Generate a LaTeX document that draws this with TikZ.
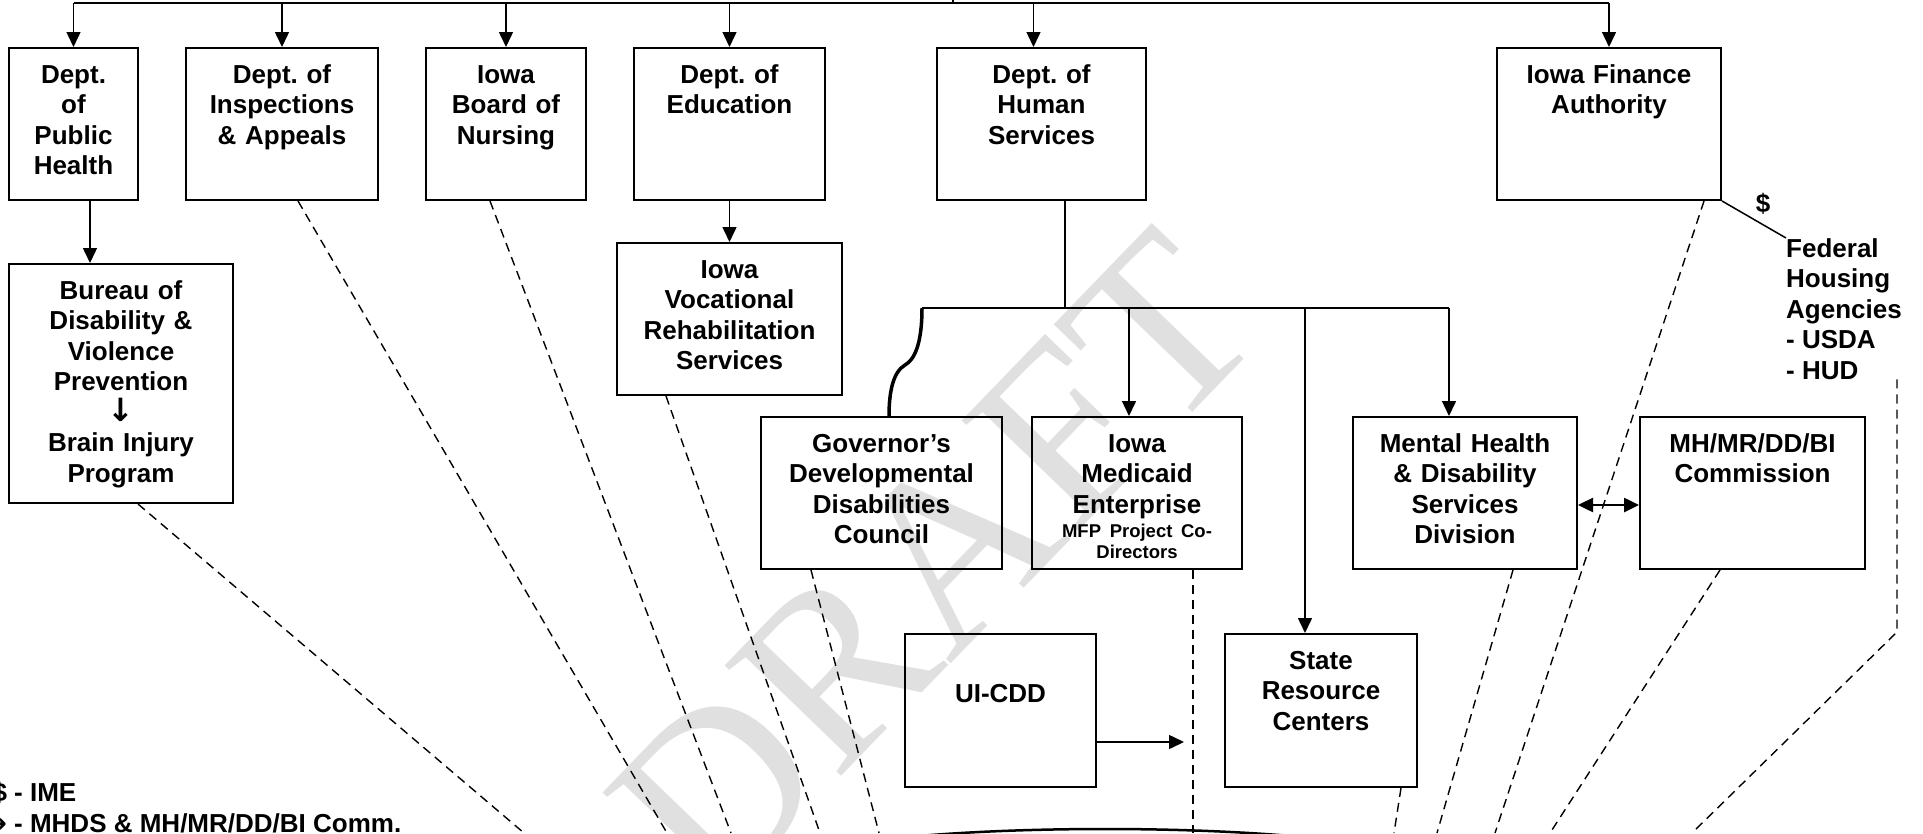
\documentclass[tikz,border=0pt]{standalone}
\usepackage{fontspec}
\setmainfont{Liberation Sans}
\newfontfamily\draftfont{Liberation Serif}
\newfontfamily\symfont{DejaVu Sans}
\usetikzlibrary{arrows.meta,shapes.geometric,calc}

\begin{document}
\begin{tikzpicture}[x=1pt, y=-1pt, >={Triangle[length=15pt,width=14pt]},
        every node/.style={font=\bfseries\fontsize{26}{30.5}\selectfont\frenchspacing},
        unit/.style={draw, line width=2pt, anchor=north, align=center,
            inner xsep=4pt, inner ysep=0pt, text height=35pt},
        link/.style={line width=1.5pt},
        dashlink/.style={line width=1.4pt, dash pattern=on 9pt off 6pt}]
        \useasboundingbox (0,0) rectangle (1923,833);
        \clip (0,0) rectangle (1923,833);

        % Watermark behind everything
        \node[text=black!12, rotate=46, inner sep=0pt,
            font=\draftfont\fontsize{245}{245}\selectfont] (draft) at (934,565) {DRAFT};

        % Departments on the top row
        \node[unit, text width=121pt, text depth=117pt] (ph) at (73.5,47) {Dept.\\of\\Public\\Health};
        \node[unit, text width=184pt, text depth=117pt] (ia) at (282,47) {Dept. of\\Inspections\\\& Appeals};
        \node[unit, text width=152pt, text depth=117pt] (bn) at (506,47) {Iowa\\Board of\\Nursing};
        \node[unit, text width=183pt, text depth=117pt] (de) at (729.5,47) {Dept. of\\Education};
        \node[unit, text width=201pt, text depth=117pt] (hs) at (1041.5,47) {Dept. of\\Human\\Services};
        \node[unit, text width=216pt, text depth=117pt] (ifa) at (1609,47) {Iowa Finance\\Authority};

        % Units under Public Health and Education
        \node[unit, text width=216pt, text depth=204pt] (bdvp) at (121,263)
            {Bureau of\\Disability \&\\Violence\\Prevention\\{\symfont\bfseries\fontsize{32}{30}\selectfont ↓}\\Brain Injury\\Program};
        \node[unit, text width=217pt, text depth=117pt] (ivrs) at (729.5,242)
            {Iowa\\Vocational\\Rehabilitation\\Services};

        % Units under Human Services
        \node[unit, text width=233pt, text depth=117pt] (gddc) at (881.5,416)
            {Governor’s\\Developmental\\Disabilities\\Council};
        \node[unit, text width=202pt, text depth=117pt] (ime) at (1137,416)
            {Iowa\\Medicaid\\Enterprise\\[-6pt]{\fontsize{18.5}{21}\selectfont
            \begin{tabular}[t]{@{}c@{}}MFP Project Co-\\Directors\end{tabular}}};
        \node[unit, text width=216pt, text depth=117pt] (mhds) at (1465,416)
            {Mental Health\\\& Disability\\Services\\Division};
        \node[unit, text width=217pt, text depth=117pt] (comm) at (1752.5,416)
            {MH/MR/DD/BI\\Commission};
        \node[unit, text width=183pt, text height=68pt, text depth=85pt] (uicdd) at (1000.5,633) {UI-CDD};
        \node[unit, text width=184pt, text depth=118pt] (src) at (1321,633) {State\\Resource\\Centers};

        % Federal housing side note
        \node[anchor=north west, align=left, inner sep=0pt] (fha) at (1786,238)
            {Federal\\Housing\\Agencies\\- USDA\\- HUD};
        \node (usd) at (1763,204) {\$};

        % Key in the lower left corner
        \node[anchor=base west, align=left, inner sep=0pt] (key) at (14,832)
            {\llap{\$ }- IME\\\llap{{\symfont\bfseries ↔} }- MHDS \& MH/MR/DD/BI Comm.};

        % Hub that the dashed lines run into
        \node[draw, ellipse, line width=2.5pt, minimum width=660pt, minimum height=80pt] (hub) at (1105,869) {};

        % Top bar with arrows down to each department
        \coordinate (bar) at (0,3);
        \coordinate (trunk) at (953,0);
        \draw[line width=2pt] (ph.north |- bar) -- (ifa.north |- bar);
        \draw[link] (trunk) -- (trunk |- bar);
        \foreach \n in {ph, ia, bn, de, ifa} {
            \draw[link,->] (\n.north |- bar) -- (\n.north);
        }
        \draw[link,->] ($(hs.north |- bar)+(-8,0)$) coordinate (hsin) -- (hsin |- hs.north);

        % Arrows to the units below
        \draw[link,->] ($(ph.south)+(16.5,0)$) coordinate (phx) -- (phx |- bdvp.north);
        \draw[link,->] (de.south) -- (ivrs.north);

        % Human Services split
        \coordinate (split) at (0,308);
        \coordinate (brace) at (922,308);
        \draw[link] ($(hs.south)+(23.5,0)$) coordinate (hsx) -- (hsx |- split);
        \draw[link] (brace) -- ($(mhds.north |- split)+(-16,0)$);
        \draw[link,->] ($(ime.north |- split)+(-8,0)$) coordinate (imex) -- (imex |- ime.north);
        \draw[link,->] ($(src.north |- split)+(-16,0)$) coordinate (srcx) -- (srcx |- src.north);
        \draw[link,->] ($(mhds.north |- split)+(-16,0)$) coordinate (mhdsx) -- (mhdsx |- mhds.north);
        \draw[line width=3.5pt] (brace) .. controls (922,345) and (914,360) .. (905,365)
            .. controls (893,372) and (889,392) .. ($(gddc.north)+(7.5,0)$);

        % UI-CDD arrow and the two-way link
        \coordinate (uiend) at (1184,742);
        \draw[link,->] (uicdd.east |- uiend) -- (uiend);
        \draw[line width=2.5pt, <->] ($(mhds.east)+(0,12)$) -- ($(comm.west)+(0,12)$);

        % Finance Authority to the federal agencies
        \draw[link] (ifa.south east) -- (fha.north west);

        % Dashed lines down to the hub
        \foreach \n/\dx/\ex in {bdvp/17/524, ia/16/667, bn/-16/731, ivrs/-63.5/820, gddc/-70.5/879,
                ime/56/1193, src/80/1394, mhds/48/1437, ifa/95/1495, comm/-32.5/1550} {
            \coordinate (\n-hub) at (\ex,833);
            \draw[dashlink] ($(\n.south)+(\dx,0)$) -- (\n-hub);
        }
        \coordinate (fhabend) at (1897,632);
        \coordinate (fha-hub) at (1692,833);
        \draw[dashlink] (fhabend |- fha.south) -- (fhabend) -- (fha-hub);
    \end{tikzpicture}
\end{document}
